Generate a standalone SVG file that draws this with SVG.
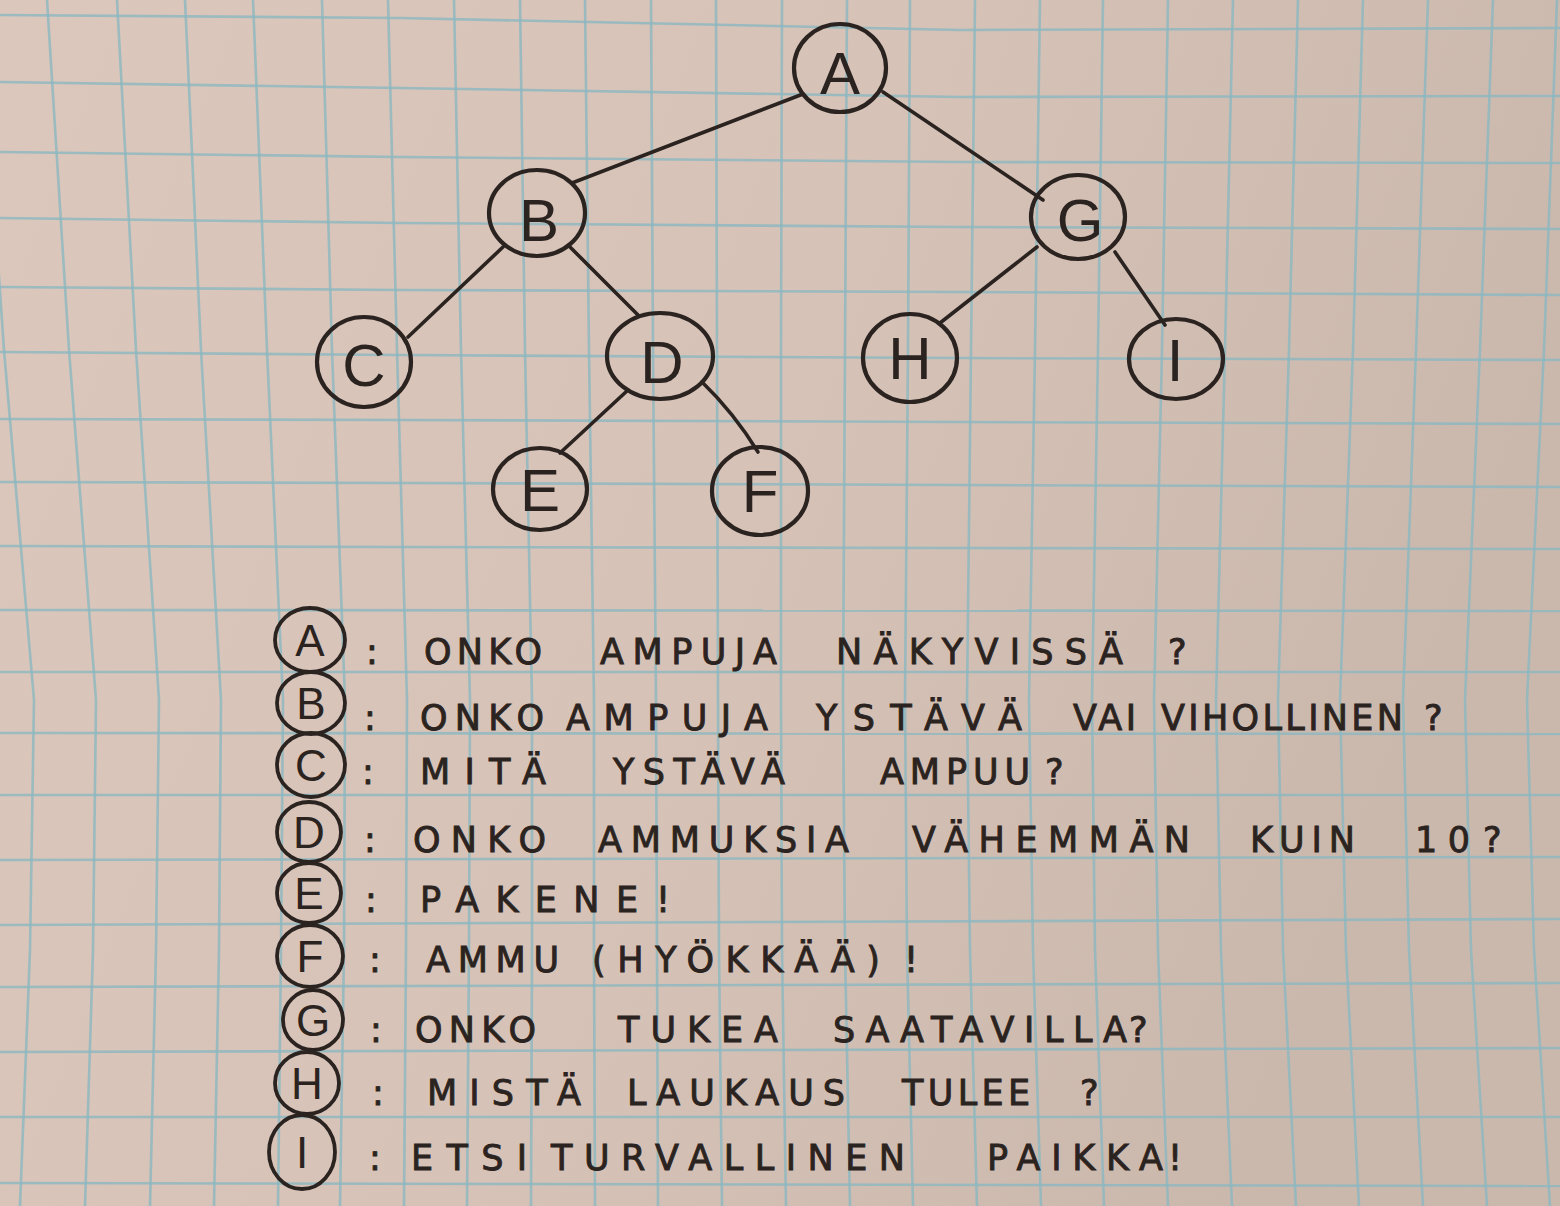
<svg xmlns="http://www.w3.org/2000/svg" width="1560" height="1206" viewBox="0 0 1560 1206">
<style>
.grid polyline{fill:none;stroke:#8bb8c1;stroke-width:2.6;stroke-opacity:0.8}
.edge{fill:none;stroke:#2b2320;stroke-width:3.6;stroke-linecap:round}
.node ellipse{fill:none;stroke:#2b2320;stroke-width:4.2}
.nl{font-family:"Liberation Sans","DejaVu Sans",sans-serif;font-size:60px;fill:#2b2320;text-anchor:middle}
.key ellipse{fill:none;stroke:#2b2320;stroke-width:3.8}
.kl{font-family:"Liberation Sans","DejaVu Sans",sans-serif;font-size:44px;fill:#2b2320;text-anchor:middle}
.tx{font-family:"DejaVu Sans","Liberation Sans",sans-serif;font-size:35px;fill:#2b2320;stroke:#2b2320;stroke-width:0.9}
</style>
<defs>
<linearGradient id="paper" x1="0" y1="0" x2="1" y2="0.3">
<stop offset="0" stop-color="#dcc7bc"/>
<stop offset="0.55" stop-color="#d6c2b7"/>
<stop offset="1" stop-color="#cbb8ad"/>
</linearGradient>
</defs>
<rect x="0" y="0" width="1560" height="1206" fill="url(#paper)"/>
<g class="grid">
<polyline points="-20,0 4,350 34,700 30,950 20,1206"/>
<polyline points="47,0 69,350 96,700 93,950 85,1206"/>
<polyline points="117,0 136,350 159,700 156,950 150,1206"/>
<polyline points="185,0 201,350 221,700 219,950 214,1206"/>
<polyline points="253,0 267,350 283,700 281,950 278,1206"/>
<polyline points="322,0 332,350 345,700 344,950 340,1206"/>
<polyline points="388,0 397,350 407,700 406,950 404,1206"/>
<polyline points="454,0 461,350 470,700 469,950 467,1206"/>
<polyline points="520,0 525,350 532,700 532,950 531,1206"/>
<polyline points="585,0 589,350 594,700 594,950 595,1206"/>
<polyline points="651,0 653,350 656,700 657,950 658,1206"/>
<polyline points="716,0 717,350 718,700 719,950 722,1206"/>
<polyline points="782,0 781,350 781,700 782,950 786,1206"/>
<polyline points="847,0 845,350 843,700 845,950 850,1206"/>
<polyline points="910,0 908,350 905,700 907,950 913,1206"/>
<polyline points="975,0 971,350 967,700 970,950 977,1206"/>
<polyline points="1040,0 1035,350 1029,700 1033,950 1041,1206"/>
<polyline points="1103,0 1098,350 1092,700 1095,950 1104,1206"/>
<polyline points="1168,0 1162,350 1154,700 1158,950 1168,1206"/>
<polyline points="1233,0 1225,350 1216,700 1221,950 1232,1206"/>
<polyline points="1298,0 1289,350 1278,700 1283,950 1296,1206"/>
<polyline points="1363,0 1353,350 1340,700 1346,950 1359,1206"/>
<polyline points="1428,0 1416,350 1403,700 1409,950 1423,1206"/>
<polyline points="1493,0 1480,350 1465,700 1471,950 1487,1206"/>
<polyline points="1557,0 1544,350 1527,700 1534,950 1550,1206"/>
<polyline points="0,15 400,18 960,30 1560,28"/>
<polyline points="0,82 400,88 960,97 1560,96"/>
<polyline points="0,152 400,157 960,162 1560,163"/>
<polyline points="0,218 400,223 960,227 1560,229"/>
<polyline points="0,287 400,290 960,292 1560,295"/>
<polyline points="0,352 400,355 960,358 1560,360"/>
<polyline points="0,419 400,420 960,422 1560,424"/>
<polyline points="0,482 400,483 960,485 1560,487"/>
<polyline points="0,546 400,547 960,548 1560,549"/>
<polyline points="0,610 1560,611"/>
<polyline points="0,672 1560,672"/>
<polyline points="0,733 1560,734"/>
<polyline points="0,795 1560,795"/>
<polyline points="0,860 1560,857"/>
<polyline points="0,925 1560,919"/>
<polyline points="0,987 1560,983"/>
<polyline points="0,1052 1560,1048"/>
<polyline points="0,1117 1560,1117"/>
<polyline points="0,1183 1560,1186"/>
</g>
<g id="connectors">
<path class="edge" d="M803,94 L572,183"/>
<path class="edge" d="M883,92 L1043,200"/>
<path class="edge" d="M503,247 L408,337"/>
<path class="edge" d="M570,247 L638,315"/>
<path class="edge" d="M628,390 L560,453"/>
<path class="edge" d="M702,382 Q734,413 758,452"/>
<path class="edge" d="M1037,247 L940,323"/>
<path class="edge" d="M1115,252 L1165,325"/>
</g>
<g id="node-A" class="node"><ellipse cx="840" cy="68" rx="46" ry="44"/><text class="nl" x="840" y="94">A</text></g>
<g id="node-B" class="node"><ellipse cx="537" cy="213" rx="48" ry="43"/><text class="nl" x="539" y="241">B</text></g>
<g id="node-G" class="node"><ellipse cx="1078" cy="217" rx="47" ry="42"/><text class="nl" x="1080" y="241">G</text></g>
<g id="node-C" class="node"><ellipse cx="364" cy="362" rx="47" ry="45"/><text class="nl" x="364" y="386">C</text></g>
<g id="node-D" class="node"><ellipse cx="660" cy="356" rx="53" ry="43"/><text class="nl" x="662" y="383">D</text></g>
<g id="node-H" class="node"><ellipse cx="910" cy="358" rx="47" ry="44"/><text class="nl" x="910" y="379">H</text></g>
<g id="node-I" class="node"><ellipse cx="1176" cy="359" rx="47" ry="40"/><text class="nl" x="1175" y="381">I</text></g>
<g id="node-E" class="node"><ellipse cx="540" cy="489" rx="47" ry="41"/><text class="nl" x="540" y="511">E</text></g>
<g id="node-F" class="node"><ellipse cx="760" cy="491" rx="48" ry="44"/><text class="nl" x="760" y="512">F</text></g>
<g id="key-A" class="key"><ellipse cx="310" cy="640" rx="35" ry="32"/><text class="kl" x="310" y="656">A</text>
<text class="tx" x="366" y="664">:</text>
<text class="tx" y="664"><tspan x="424" textLength="118" lengthAdjust="spacing">ONKO</tspan> <tspan x="600" textLength="177" lengthAdjust="spacing">AMPUJA</tspan> <tspan x="836" textLength="287" lengthAdjust="spacing">NÄKYVISSÄ</tspan><tspan x="1168">?</tspan></text></g>
<g id="key-B" class="key"><ellipse cx="311" cy="703" rx="34" ry="31"/><text class="kl" x="311" y="719">B</text>
<text class="tx" x="364" y="730">:</text>
<text class="tx" y="730"><tspan x="420" textLength="124" lengthAdjust="spacing">ONKO</tspan> <tspan x="566" textLength="202" lengthAdjust="spacing">AMPUJA</tspan> <tspan x="816" textLength="206" lengthAdjust="spacing">YSTÄVÄ</tspan> <tspan x="1073" textLength="63" lengthAdjust="spacing">VAI</tspan> <tspan x="1161" textLength="242" lengthAdjust="spacing">VIHOLLINEN</tspan><tspan x="1424">?</tspan></text></g>
<g id="key-C" class="key"><ellipse cx="311" cy="765" rx="34" ry="32"/><text class="kl" x="311" y="781">C</text>
<text class="tx" x="362" y="784">:</text>
<text class="tx" y="784"><tspan x="420" textLength="126" lengthAdjust="spacing">MITÄ</tspan> <tspan x="613" textLength="172" lengthAdjust="spacing">YSTÄVÄ</tspan> <tspan x="880" textLength="150" lengthAdjust="spacing">AMPUU</tspan><tspan x="1045">?</tspan></text></g>
<g id="key-D" class="key"><ellipse cx="309" cy="832" rx="32" ry="30"/><text class="kl" x="309" y="848">D</text>
<text class="tx" x="364" y="852">:</text>
<text class="tx" y="852"><tspan x="413" textLength="133" lengthAdjust="spacing">ONKO</tspan> <tspan x="598" textLength="251" lengthAdjust="spacing">AMMUKSIA</tspan> <tspan x="912" textLength="278" lengthAdjust="spacing">VÄHEMMÄN</tspan> <tspan x="1250" textLength="105" lengthAdjust="spacing">KUIN</tspan> <tspan x="1415" textLength="55" lengthAdjust="spacing">10</tspan><tspan x="1483">?</tspan></text></g>
<g id="key-E" class="key"><ellipse cx="309" cy="893" rx="32" ry="30"/><text class="kl" x="309" y="909">E</text>
<text class="tx" x="365" y="912">:</text>
<text class="tx" y="912"><tspan x="420" textLength="218" lengthAdjust="spacing">PAKENE</tspan><tspan x="656">!</tspan></text></g>
<g id="key-F" class="key"><ellipse cx="310" cy="956" rx="33" ry="31"/><text class="kl" x="310" y="972">F</text>
<text class="tx" x="369" y="972">:</text>
<text class="tx" y="972"><tspan x="426" textLength="133" lengthAdjust="spacing">AMMU</tspan> <tspan x="592" textLength="288" lengthAdjust="spacing">(HYÖKKÄÄ)</tspan><tspan x="904">!</tspan></text></g>
<g id="key-G" class="key"><ellipse cx="313" cy="1020" rx="30" ry="30"/><text class="kl" x="313" y="1036">G</text>
<text class="tx" x="370" y="1042">:</text>
<text class="tx" y="1042"><tspan x="415" textLength="121" lengthAdjust="spacing">ONKO</tspan> <tspan x="618" textLength="160" lengthAdjust="spacing">TUKEA</tspan> <tspan x="833" textLength="294" lengthAdjust="spacing">SAATAVILLA</tspan><tspan x="1129">?</tspan></text></g>
<g id="key-H" class="key"><ellipse cx="307" cy="1083" rx="32" ry="31"/><text class="kl" x="307" y="1099">H</text>
<text class="tx" x="372" y="1105">:</text>
<text class="tx" y="1105"><tspan x="427" textLength="154" lengthAdjust="spacing">MISTÄ</tspan> <tspan x="627" textLength="218" lengthAdjust="spacing">LAUKAUS</tspan> <tspan x="902" textLength="128" lengthAdjust="spacing">TULEE</tspan><tspan x="1080">?</tspan></text></g>
<g id="key-I" class="key"><ellipse cx="302" cy="1152" rx="33" ry="37"/><text class="kl" x="302" y="1168">I</text>
<text class="tx" x="369" y="1170">:</text>
<text class="tx" y="1170"><tspan x="411" textLength="116" lengthAdjust="spacing">ETSI</tspan> <tspan x="551" textLength="354" lengthAdjust="spacing">TURVALLINEN</tspan> <tspan x="987" textLength="176" lengthAdjust="spacing">PAIKKA</tspan><tspan x="1168">!</tspan></text></g>
</svg>
